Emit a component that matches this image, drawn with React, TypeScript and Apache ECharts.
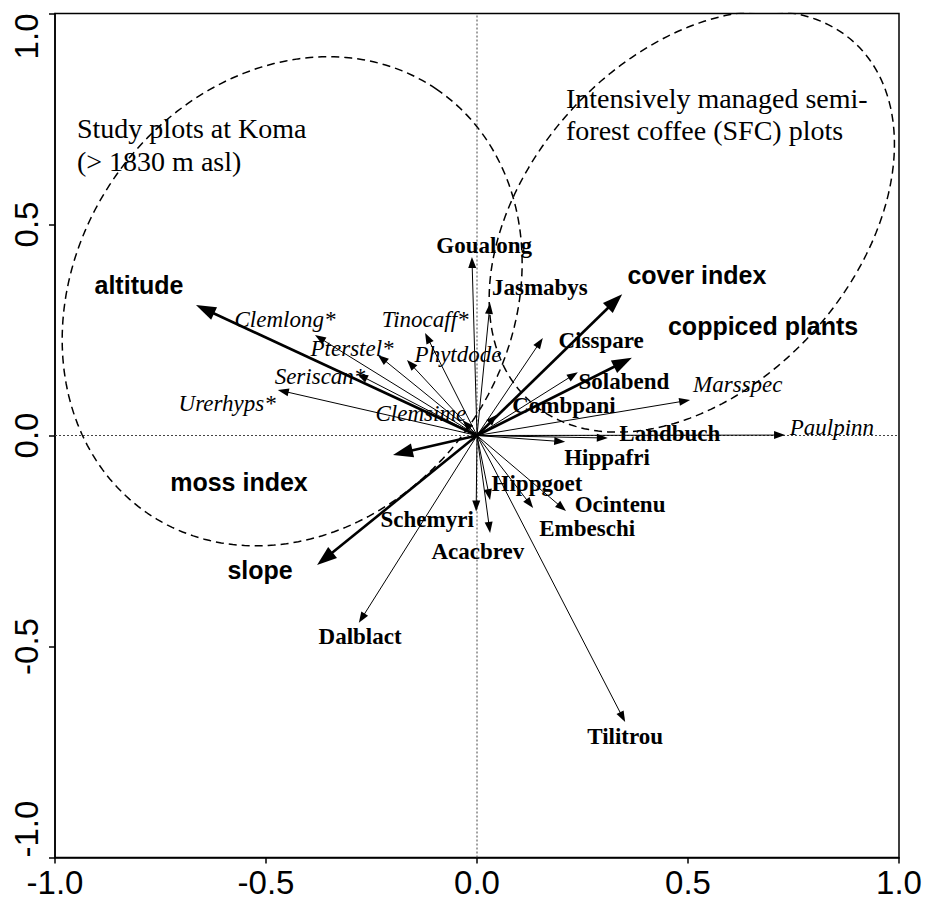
import React, { useEffect, useRef } from "react";
import * as echarts from "echarts";

// Axis ticks
const TICKS = [-1, -0.5, 0, 0.5, 1];

// Environmental variables: thick arrows, bold sans-serif labels
const envNames = ["altitude", "cover index", "coppiced plants", "moss index", "slope"];
const envX = [-0.666, 0.344, 0.367, -0.199, -0.379];
const envY = [0.309, 0.335, 0.184, -0.046, -0.307];
const envLabelX = [-0.801, 0.521, 0.678, -0.564, -0.514];
const envLabelY = [0.357, 0.38, 0.259, -0.11, -0.319];

// Species: thin arrows, bold serif labels
const spNames = [
  "Goualong", "Jasmabys", "Cisspare", "Solabend", "Combpani", "Landbuch", "Hippafri",
  "Hippgoet", "Ocintenu", "Embeschi", "Schemyri", "Acacbrev", "Dalblact", "Tilitrou",
];
const spX = [-0.012, 0.031, 0.156, 0.239, 0.047, 0.31, 0.209, 0.031, 0.211, 0.133, -0.002, 0.031, -0.28, 0.351];
const spY = [0.423, 0.314, 0.231, 0.15, 0.049, -0.006, -0.015, -0.153, -0.179, -0.172, -0.18, -0.231, -0.444, -0.679];
const spLabelX = [0.017, 0.149, 0.294, 0.348, 0.206, 0.457, 0.308, 0.142, 0.339, 0.261, -0.118, 0.002, -0.277, 0.351];
const spLabelY = [0.451, 0.35, 0.226, 0.127, 0.07, 0.004, -0.051, -0.113, -0.164, -0.221, -0.198, -0.276, -0.477, -0.714];

// Species: thin arrows, italic serif labels
const itNames = [
  "Clemlong*", "Tinocaff*", "Pterstel*", "Phytdode", "Seriscan*", "Urerhyps*", "Clemsime", "Marsspec", "Paulpinn",
];
const itX = [-0.384, -0.123, -0.235, -0.166, -0.284, -0.472, -0.034, 0.505, 0.73];
const itY = [0.238, 0.243, 0.191, 0.179, 0.146, 0.108, 0.036, 0.084, 0.001];
const itLabelX = [-0.455, -0.123, -0.296, -0.045, -0.372, -0.592, -0.133, 0.618, 0.841];
const itLabelY = [0.274, 0.274, 0.205, 0.191, 0.139, 0.077, 0.053, 0.122, 0.018];

// Group ellipses: centre, semi-axes and rotation (degrees)
const kom = { cx: -0.438, cy: 0.318, a: 0.608, b: 0.513, angle: 55.7 };
const sfc = { cx: 0.509, cy: 0.507, a: 0.573, b: 0.389, angle: 48 };

function ellipsePoints(e: { cx: number; cy: number; a: number; b: number; angle: number }) {
  const pts: number[][] = [];
  const th = (e.angle * Math.PI) / 180;
  const n = 240;
  for (let i = 0; i <= n; i++) {
    const t = (i / n) * Math.PI * 2;
    const ca = e.a * Math.cos(t);
    const sb = e.b * Math.sin(t);
    pts.push([e.cx + ca * Math.cos(th) - sb * Math.sin(th), e.cy + ca * Math.sin(th) + sb * Math.cos(th)]);
  }
  return pts;
}

function arrowSeries(xs: number[], ys: number[], thick: boolean) {
  return {
    type: "custom",
    silent: true,
    z: 5,
    data: xs.map((x, i) => [x, ys[i]]),
    encode: { x: 0, y: 1 },
    renderItem: (_params: any, api: any) => {
      const o = api.coord([0, 0]);
      const p = api.coord([api.value(0), api.value(1)]);
      const dx = p[0] - o[0];
      const dy = p[1] - o[1];
      const len = Math.hypot(dx, dy) || 1;
      const ux = dx / len;
      const uy = dy / len;
      const hl = thick ? 20 : 11;
      const hw = thick ? 7 : 4;
      const bx = p[0] - ux * hl;
      const by = p[1] - uy * hl;
      return {
        type: "group",
        children: [
          {
            type: "line",
            shape: { x1: o[0], y1: o[1], x2: bx + ux * 3, y2: by + uy * 3 },
            style: { stroke: "#000", lineWidth: thick ? 2.6 : 1 },
          },
          {
            type: "polygon",
            shape: {
              points: [
                [p[0], p[1]],
                [bx - uy * hw, by + ux * hw],
                [bx + uy * hw, by - ux * hw],
              ],
            },
            style: { fill: "#000" },
          },
        ],
      };
    },
  };
}

function labelSeries(names: string[], xs: number[], ys: number[], font: any) {
  return {
    type: "custom",
    silent: true,
    z: 10,
    data: xs.map((x, i) => [x, ys[i]]),
    encode: { x: 0, y: 1 },
    renderItem: (params: any, api: any) => {
      const p = api.coord([api.value(0), api.value(1)]);
      return {
        type: "text",
        x: p[0],
        y: p[1],
        style: {
          text: names[params.dataIndex],
          fill: "#000",
          align: "center",
          verticalAlign: "middle",
          ...font,
        },
      };
    },
  };
}

export default function App() {
  const ref = useRef<HTMLDivElement>(null);

  useEffect(() => {
    if (!ref.current) return;
    const chart = echarts.init(ref.current, null, { renderer: "svg" });
    const axisCommon = {
      type: "value",
      min: TICKS[0],
      max: TICKS[TICKS.length - 1],
      interval: 0.5,
      splitLine: { show: false },
      axisLine: { show: true, onZero: false, lineStyle: { color: "#000", width: 1.5 } },
      axisTick: { show: true, inside: false, length: 6, lineStyle: { color: "#000", width: 1.5 } },
    };
    const serifBold = { fontFamily: "Liberation Serif", fontWeight: "bold", fontSize: 23 };
    const serifItalic = { fontFamily: "Liberation Serif", fontStyle: "italic", fontSize: 23 };
    const sansBold = { fontFamily: "Liberation Sans", fontWeight: "bold", fontSize: 25 };

    chart.setOption({
      animation: false,
      backgroundColor: "#fff",
      grid: {
        left: 55,
        right: 26,
        top: 13.5,
        bottom: 43.5,
        outerBoundsMode: "none",
        containLabel: false,
        show: true,
        borderColor: "#000",
        borderWidth: 1.5,
        backgroundColor: "transparent",
      },
      xAxis: {
        ...axisCommon,
        axisLabel: {
          color: "#000",
          fontFamily: "Liberation Sans",
          fontSize: 33,
          margin: 8,
          formatter: (v: number) => v.toFixed(1),
        },
      },
      yAxis: {
        ...axisCommon,
        axisLabel: {
          color: "#000",
          fontFamily: "Liberation Sans",
          fontSize: 33,
          margin: 12,
          rotate: 90,
          alignMinLabel: "left",
          alignMaxLabel: "right",
          formatter: (v: number) => v.toFixed(1),
        },
      },
      graphic: [
        {
          type: "text",
          x: 77,
          y: 112,
          style: {
            text: "Study plots at Koma\n(> 1830 m asl)",
            fontFamily: "Liberation Serif",
            fontSize: 28,
            lineHeight: 33,
            fill: "#000",
            verticalAlign: "top",
          },
          z: 20,
        },
        {
          type: "text",
          x: 566,
          y: 82,
          style: {
            text: "Intensively managed semi-\nforest coffee (SFC) plots",
            fontFamily: "Liberation Serif",
            fontSize: 28,
            lineHeight: 32,
            fill: "#000",
            verticalAlign: "top",
          },
          z: 20,
        },
      ],
      series: [
        {
          type: "line",
          data: [[-1, 0], [1, 0]],
          showSymbol: false,
          silent: true,
          lineStyle: { color: "#444", width: 1, type: [2, 2] },
          z: 1,
        },
        {
          type: "line",
          data: [[0, -1], [0, 1]],
          showSymbol: false,
          silent: true,
          lineStyle: { color: "#444", width: 1, type: [2, 2] },
          z: 1,
        },
        {
          type: "line",
          data: ellipsePoints(kom),
          showSymbol: false,
          silent: true,
          lineStyle: { color: "#000", width: 1.5, type: [8, 5] },
          z: 2,
        },
        {
          type: "line",
          data: ellipsePoints(sfc),
          showSymbol: false,
          silent: true,
          lineStyle: { color: "#000", width: 1.5, type: [8, 5] },
          z: 2,
        },
        arrowSeries(spX, spY, false),
        arrowSeries(itX, itY, false),
        arrowSeries(envX, envY, true),
        labelSeries(spNames, spLabelX, spLabelY, serifBold),
        labelSeries(itNames, itLabelX, itLabelY, serifItalic),
        labelSeries(envNames, envLabelX, envLabelY, sansBold),
      ],
    });
    return () => chart.dispose();
  }, []);

  return (
    <div
      ref={ref}
      style={{ position: "absolute", left: 0, top: 0, width: 925, height: 901, background: "#fff" }}
    />
  );
}
